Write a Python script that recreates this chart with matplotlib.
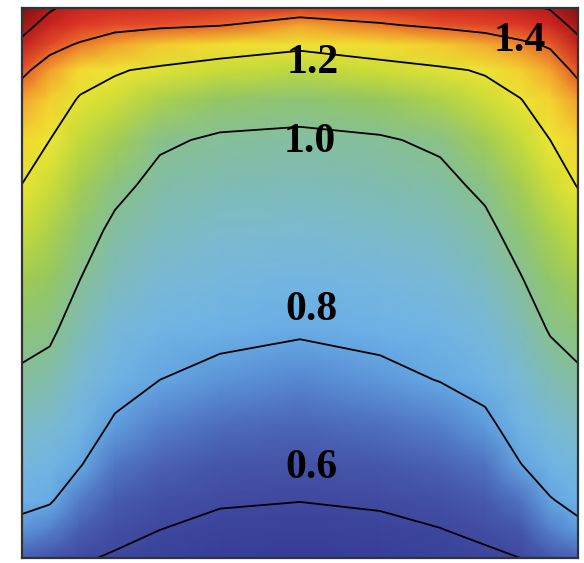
import numpy as np
import matplotlib
matplotlib.use("Agg")
import matplotlib.pyplot as plt
from matplotlib.colors import LinearSegmentedColormap, Normalize

# Grid positions (normalized: x left->right, y bottom->top)
x_grid = [0.0, 0.05, 0.104, 0.167, 0.248, 0.356, 0.5, 0.644, 0.752, 0.833, 0.896, 0.95, 1.0]
y_grid = [1.0, 0.969, 0.933, 0.887, 0.833, 0.76, 0.678, 0.596, 0.505, 0.415,
          0.324, 0.242, 0.169, 0.105, 0.051, 0.0]

# Field values, rows from top to bottom
z_rows = [
    [1.75, 1.62, 1.53, 1.50, 1.48, 1.47, 1.46, 1.47, 1.50, 1.52, 1.56, 1.61, 1.72],
    [1.66, 1.535, 1.46, 1.43, 1.42, 1.405, 1.35, 1.39, 1.42, 1.44, 1.46, 1.52, 1.65],
    [1.56, 1.43, 1.39, 1.35, 1.30, 1.26, 1.22, 1.26, 1.30, 1.34, 1.38, 1.41, 1.55],
    [1.42, 1.356, 1.27, 1.21, 1.18, 1.15, 1.134, 1.158, 1.183, 1.21, 1.29, 1.35, 1.42],
    [1.35, 1.29, 1.186, 1.16, 1.11, 1.064, 1.045, 1.075, 1.113, 1.157, 1.194, 1.286, 1.355],
    [1.28, 1.20, 1.144, 1.10, 1.016, 0.985, 0.978, 0.989, 1.019, 1.094, 1.149, 1.20, 1.284],
    [1.198, 1.157, 1.098, 1.03, 0.968, 0.947, 0.939, 0.95, 0.969, 1.024, 1.098, 1.155, 1.204],
    [1.15, 1.114, 1.05, 0.976, 0.93, 0.909, 0.899, 0.912, 0.93, 0.972, 1.047, 1.109, 1.152],
    [1.093, 1.067, 1.0, 0.93, 0.886, 0.867, 0.855, 0.869, 0.888, 0.925, 0.992, 1.059, 1.096],
    [1.04, 1.02, 0.947, 0.88, 0.844, 0.825, 0.811, 0.826, 0.845, 0.877, 0.939, 1.008, 1.04],
    [0.98, 0.96, 0.895, 0.835, 0.80, 0.773, 0.753, 0.775, 0.803, 0.83, 0.887, 0.947, 0.98],
    [0.923, 0.90, 0.847, 0.788, 0.74, 0.713, 0.697, 0.716, 0.742, 0.78, 0.84, 0.89, 0.92],
    [0.87, 0.85, 0.805, 0.727, 0.686, 0.66, 0.647, 0.663, 0.687, 0.72, 0.797, 0.84, 0.87],
    [0.826, 0.81, 0.739, 0.673, 0.64, 0.613, 0.603, 0.617, 0.639, 0.668, 0.72, 0.795, 0.824],
    [0.77, 0.74, 0.677, 0.627, 0.60, 0.567, 0.55, 0.57, 0.597, 0.623, 0.66, 0.74, 0.78],
    [0.68, 0.65, 0.61, 0.59, 0.55, 0.52, 0.50, 0.52, 0.55, 0.58, 0.60, 0.66, 0.69],
]

contour_levels = [0.6, 0.8, 1.0, 1.2, 1.4, 1.6]
label_texts = ["1.4", "1.2", "1.0", "0.8", "0.6"]
label_x = [0.896, 0.523, 0.518, 0.52, 0.52]
label_y = [0.94, 0.90, 0.756, 0.451, 0.164]

# colormap stops (value, colour)
cmap_vals = [0.50, 0.60, 0.65, 0.70, 0.74, 0.78, 0.82, 0.86, 0.90, 0.95, 1.00,
             1.04, 1.08, 1.15, 1.20, 1.27, 1.33, 1.38, 1.42, 1.48, 1.60, 1.75]
cmap_cols = ["#363c96", "#3e489e", "#4454a8", "#4c66b8", "#5480cc", "#5e9cdc",
             "#6cb2e8", "#74b6e0", "#7cbad0", "#80bcb0", "#88c094", "#8cc478",
             "#98c858", "#c8dc38", "#ece634", "#f4dc30", "#f4b830", "#f08a2c",
             "#e4502a", "#d82c24", "#b81c1c", "#7a1010"]

vmin, vmax = cmap_vals[0], cmap_vals[-1]
cmap = LinearSegmentedColormap.from_list(
    "field", [((v - vmin) / (vmax - vmin), c) for v, c in zip(cmap_vals, cmap_cols)])

X, Y = np.meshgrid(np.array(x_grid), np.array(y_grid))
Z = np.array(z_rows)

fig = plt.figure(figsize=(5.84, 5.63), dpi=100)
ax = fig.add_axes([22 / 584, 5 / 563, 556 / 584, 550 / 563])
ax.pcolormesh(X, Y, Z, shading="gouraud", cmap=cmap, norm=Normalize(vmin, vmax))
ax.contour(X, Y, Z, levels=contour_levels, colors="black", linewidths=1.3)

for t, lx, ly in zip(label_texts, label_x, label_y):
    ax.text(lx, ly, t, ha="center", va="center", fontsize=30,
            fontweight="bold", family="Liberation Serif", color="black")

ax.set_xlim(0, 1)
ax.set_ylim(0, 1)
ax.set_xticks([])
ax.set_yticks([])
for s in ax.spines.values():
    s.set_color("#333333")
    s.set_linewidth(1.6)

fig.savefig("out.png", dpi=100)
